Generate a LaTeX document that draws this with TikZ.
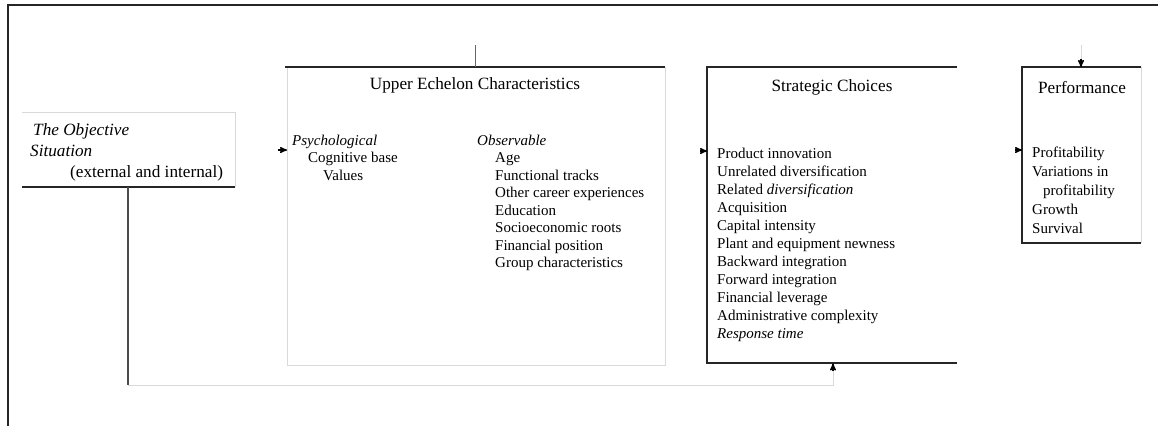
\documentclass[tikz,border=0pt]{standalone}
\usepackage{fontspec}
\setmainfont{Liberation Serif}
\usepackage{tikz}
\usetikzlibrary{calc}
\usetikzlibrary{positioning}
\usetikzlibrary{arrows}
\tikzset{
  frameline/.style = {line width=2pt, black!85},
  darkline/.style = {line width=2pt, black!85},
  greyline/.style = {line width=1pt, black!15},
  stubline/.style = {line width=1pt, black!60},
  tiparrow/.style = {->, line width=1.4pt, black},
  area/.style = {rectangle, inner sep=0pt, anchor=north west},
  boxtitle/.style = {font=\fontsize{17.2}{20}\selectfont, inner sep=0pt, anchor=north},
  itemlist/.style = {align=left, inner sep=0pt, anchor=north west},
}

\begin{document}
\begin{tikzpicture}[x=1pt,y=-1pt,>=stealth']
\useasboundingbox (0,0) rectangle (1158,426);
% outer frame
\draw[frameline] (7,5) -- (1158,5);
\draw[frameline] (8,5) -- (8,426);

% boxes
\node[area, minimum width=213pt, minimum height=75pt] (obj) at (22,112) {};
\node[area, minimum width=378pt, minimum height=298pt] (ue) at (287,67) {};
\node[area, minimum width=250pt, minimum height=296pt] (sc) at (707,67) {};
\node[area, minimum width=119pt, minimum height=176pt] (perf) at (1022,67) {};

% objective situation
\draw[greyline] (obj.north west) -- (obj.north east) -- (obj.south east);
\draw[darkline] (obj.south west) -- (obj.south east);
\node[itemlist, font=\fontsize{17.2}{21}\selectfont] (objtext) at (30,123)
  {\hspace*{3pt}\textit{The Objective}\\
   \textit{Situation}\\
   \hspace*{40pt}(external and internal)};

% upper echelon characteristics
\draw[greyline] (ue.north west) -- (ue.south west) -- (ue.south east) -- (ue.north east);
\draw[darkline] ($(ue.north west)+(-2,0)$) -- (ue.north east);
\node[boxtitle] (uetitle) at (475,77) {Upper Echelon Characteristics};
\node[itemlist, font=\fontsize{15}{17.5}\selectfont] (psych) at (292,134.5)
  {\textit{Psychological}\\
   \hspace*{16pt}Cognitive base\\
   \hspace*{31pt}Values};
\node[itemlist, font=\fontsize{15}{17.5}\selectfont] (obs) at (477,134.5)
  {\textit{Observable}\\
   \hspace*{18pt}Age\\
   \hspace*{18pt}Functional tracks\\
   \hspace*{18pt}Other career experiences\\
   \hspace*{18pt}Education\\
   \hspace*{18pt}Socioeconomic roots\\
   \hspace*{18pt}Financial position\\
   \hspace*{18pt}Group characteristics};

% strategic choices
\draw[darkline] (sc.north east) -- (sc.north west) -- (sc.south west) -- (sc.south east);
\node[boxtitle] (sctitle) at (832,79) {Strategic Choices};
\node[itemlist, font=\fontsize{15}{18}\selectfont] (sclist) at (717,147.5)
  {Product innovation\\
   Unrelated diversification\\
   Related \textit{diversification}\\
   Acquisition\\
   Capital intensity\\
   Plant and equipment newness\\
   Backward integration\\
   Forward integration\\
   Financial leverage\\
   Administrative complexity\\
   \textit{Response time}};

% performance
\draw[greyline] (perf.north east) -- (perf.south east);
\draw[darkline] (perf.north east) -- (perf.north west) -- (perf.south west) -- (perf.south east);
\node[boxtitle] (perftitle) at (1082,81) {Performance};
\node[itemlist, font=\fontsize{15}{19}\selectfont] (perflist) at (1032,146.5)
  {Profitability\\
   Variations in\\
   \hspace*{11pt}profitability\\
   Growth\\
   Survival};

% connectors
\coordinate (a1) at (278,150);
\coordinate (a2) at (700,151);
\coordinate (a3) at (1015,150);
\draw[tiparrow] (a1) -- (a1 -| ue.west);
\draw[tiparrow] (a2) -- (a2 -| sc.west);
\draw[tiparrow] (a3) -- (a3 -| perf.west);

\coordinate (t1) at (475,45);
\draw[stubline] (t1) -- (t1 |- ue.north);
\coordinate (t2) at (1081,45);
\coordinate (t3) at (1081,59);
\draw[greyline] (t2) -- (t3);
\draw[tiparrow] (t3) -- (t3 |- perf.north);

% feedback loop
\coordinate (fb1) at (128,385);
\coordinate (fb2) at (833,385);
\coordinate (fb3) at (833,371);
\draw[line width=1.5pt, black!70] (fb1 |- obj.south) -- (fb1);
\draw[greyline] (fb1) -- (fb2) -- (fb3);
\draw[tiparrow] (fb3) -- (fb3 |- sc.south);
\end{tikzpicture}
\end{document}
